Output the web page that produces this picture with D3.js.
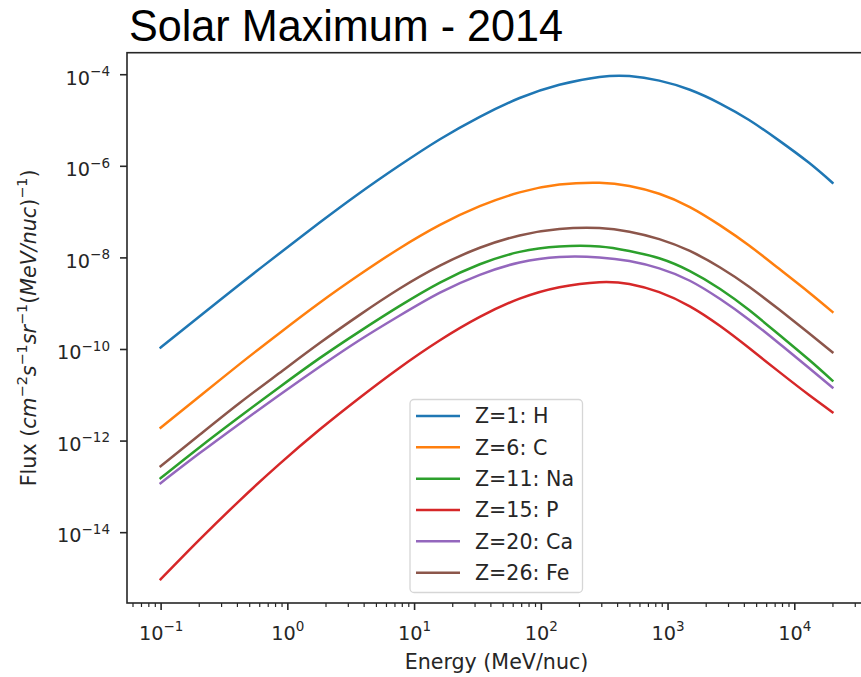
<!DOCTYPE html>
<html>
<head>
<meta charset="utf-8">
<script src="https://cdn.jsdelivr.net/npm/d3@7"></script>
<style>
  html, body { margin: 0; padding: 0; background: #fff; }
  svg { display: block; }
</style>
</head>
<body>
<svg id="chart" width="861" height="677"></svg>
<script>
// Kinetic energy grid (MeV/nuc) shared by every spectrum
const energies = [0.1, 0.2, 0.42, 0.86, 1.8, 3.7, 7.6, 16, 33, 68, 140, 290, 500, 860, 1500, 2600, 4400, 7600, 13000, 20000];

// Differential flux, cm^-2 s^-1 sr^-1 (MeV/nuc)^-1
const fluxH  = [1.072e-10, 5.012e-10, 2.570e-9, 1.202e-8, 5.754e-8, 2.512e-7, 1.000e-6, 3.802e-6, 1.175e-5, 3.020e-5, 5.888e-5, 8.710e-5, 9.120e-5, 7.244e-5, 4.571e-5, 2.291e-5, 1.000e-5, 3.548e-6, 1.175e-6, 4.266e-7];
const fluxC  = [1.905e-12, 8.913e-12, 4.677e-11, 2.188e-10, 1.023e-9, 4.169e-9, 1.549e-8, 5.129e-8, 1.318e-7, 2.630e-7, 3.890e-7, 4.266e-7, 3.631e-7, 2.455e-7, 1.259e-7, 5.012e-8, 1.820e-8, 5.623e-9, 1.738e-9, 6.457e-10];
const fluxNa = [1.514e-13, 6.918e-13, 3.311e-12, 1.445e-11, 6.310e-11, 2.399e-10, 8.511e-10, 2.818e-9, 7.079e-9, 1.318e-8, 1.738e-8, 1.738e-8, 1.380e-8, 9.550e-9, 5.012e-9, 2.042e-9, 7.079e-10, 2.042e-10, 5.888e-11, 2.042e-11];
const fluxP  = [9.333e-16, 6.607e-15, 4.898e-14, 3.020e-13, 1.738e-12, 8.511e-12, 3.802e-11, 1.549e-10, 5.012e-10, 1.259e-9, 2.239e-9, 2.884e-9, 2.630e-9, 1.738e-9, 8.511e-10, 3.162e-10, 1.047e-10, 3.162e-11, 1.000e-11, 4.169e-12];
const fluxCa = [1.175e-13, 5.129e-13, 2.344e-12, 9.772e-12, 4.074e-11, 1.549e-10, 5.248e-10, 1.698e-9, 4.169e-9, 7.762e-9, 1.023e-8, 1.000e-8, 8.318e-9, 5.754e-9, 3.090e-9, 1.230e-9, 4.365e-10, 1.318e-10, 3.890e-11, 1.445e-11];
const fluxFe = [2.754e-13, 1.288e-12, 6.607e-12, 2.951e-11, 1.349e-10, 5.495e-10, 2.042e-9, 6.607e-9, 1.622e-8, 3.020e-8, 4.169e-8, 4.365e-8, 3.631e-8, 2.512e-8, 1.380e-8, 6.026e-9, 2.291e-9, 7.244e-10, 2.239e-10, 8.511e-11];

const seriesLabels = ["Z=1: H", "Z=6: C", "Z=11: Na", "Z=15: P", "Z=20: Ca", "Z=26: Fe"];
const seriesFlux = [fluxH, fluxC, fluxNa, fluxP, fluxCa, fluxFe];
const seriesColors = ["#1f77b4", "#ff7f0e", "#2ca02c", "#d62728", "#9467bd", "#8c564b"];

const xTickExponents = [-1, 0, 1, 2, 3, 4];
const yTickExponents = [-14, -12, -10, -8, -6, -4];

const titleText = "Solar Maximum - 2014";
const xLabelText = "Energy (MeV/nuc)";

// ---- layout ----
const plot = { left: 127, right: 866, top: 52.7, bottom: 603 };
const tickFont = "DejaVu Sans, sans-serif";
const tickSize = 19.3;
const labelSize = 20.6;
const ink = "#262626";

const svg = d3.select("#chart");

const x = d3.scaleLog().domain([0.0543, 36800]).range([plot.left, plot.right]);
const y = d3.scaleLog().domain([2.84e-16, 2.95e-4]).range([plot.bottom, plot.top]);

// Write "10" with a raised exponent into a text node
function powerLabel(sel, exp) {
  sel.text(null);
  sel.append("tspan").text("10");
  sel.append("tspan").attr("dy", -8.4).attr("font-size", "0.7em")
    .text(exp < 0 ? "\u2212" + Math.abs(exp) : String(exp));
}

// ---- title ----
svg.append("text")
  .attr("x", 129).attr("y", 40.5)
  .attr("font-family", "'Liberation Sans', Arial, sans-serif")
  .attr("font-size", 44)
  .attr("fill", "#000")
  .attr("textLength", 434)
  .attr("lengthAdjust", "spacingAndGlyphs")
  .text(titleText);

// ---- spectra ----
svg.append("clipPath").attr("id", "plot-clip")
  .append("rect")
  .attr("x", plot.left).attr("y", plot.top)
  .attr("width", plot.right - plot.left).attr("height", plot.bottom - plot.top);

const line = d3.line()
  .x(d => x(d[0]))
  .y(d => y(d[1]))
  .curve(d3.curveNatural);

const linesG = svg.append("g").attr("clip-path", "url(#plot-clip)");
seriesFlux.forEach((flux, i) => {
  linesG.append("path")
    .datum(energies.map((e, j) => [e, flux[j]]))
    .attr("fill", "none")
    .attr("stroke", seriesColors[i])
    .attr("stroke-width", 2.5)
    .attr("stroke-linejoin", "round")
    .attr("stroke-linecap", "square")
    .attr("d", line);
});

// ---- x axis: minor ticks ----
const minorX = [];
for (let d = -2; d <= 4; d++) {
  for (let k = 2; k <= 9; k++) {
    const v = k * Math.pow(10, d);
    if (v >= x.domain()[0] && v <= x.domain()[1]) minorX.push(v);
  }
}
const xMinor = svg.append("g")
  .attr("transform", `translate(0,${plot.bottom})`)
  .call(d3.axisBottom(x).tickValues(minorX).tickSize(4).tickFormat(""));
xMinor.select(".domain").remove();
xMinor.selectAll(".tick line").attr("stroke", ink).attr("stroke-width", 1.2);

// ---- x axis: major ticks ----
const xMajor = svg.append("g")
  .attr("transform", `translate(0,${plot.bottom})`)
  .call(d3.axisBottom(x)
    .tickValues(xTickExponents.map(e => Math.pow(10, e)))
    .tickSize(7)
    .tickFormat(""));
xMajor.select(".domain").remove();
xMajor.selectAll(".tick line").attr("stroke", ink).attr("stroke-width", 1.6);
xMajor.selectAll(".tick text")
  .attr("y", 36.5).attr("dy", 0)
  .attr("font-family", tickFont).attr("font-size", tickSize)
  .attr("fill", ink)
  .each(function(d) { powerLabel(d3.select(this), Math.round(Math.log10(d))); });

// ---- y axis ----
const yAxis = svg.append("g")
  .attr("transform", `translate(${plot.left},0)`)
  .call(d3.axisLeft(y)
    .tickValues(yTickExponents.map(e => Math.pow(10, e)))
    .tickSize(7)
    .tickPadding(10)
    .tickFormat(""));
yAxis.select(".domain").remove();
yAxis.selectAll(".tick line").attr("stroke", ink).attr("stroke-width", 1.6);
yAxis.selectAll(".tick text")
  .attr("dy", 9.8)
  .attr("font-family", tickFont).attr("font-size", tickSize)
  .attr("fill", ink)
  .each(function(d) { powerLabel(d3.select(this), Math.round(Math.log10(d))); });

// ---- frame ----
svg.append("rect")
  .attr("x", plot.left).attr("y", plot.top)
  .attr("width", plot.right - plot.left).attr("height", plot.bottom - plot.top)
  .attr("fill", "none").attr("stroke", ink).attr("stroke-width", 1.6);

// ---- axis labels ----
svg.append("text")
  .attr("x", (plot.left + plot.right) / 2).attr("y", 669)
  .attr("text-anchor", "middle")
  .attr("font-family", tickFont).attr("font-size", labelSize)
  .attr("fill", ink)
  .text(xLabelText);

// y label mixes upright text, italic math symbols and exponents
const yLabelParts = [
  { t: "Flux (" },
  { t: "cm", it: true }, { t: "\u22122", sup: true },
  { t: "s", it: true }, { t: "\u22121", sup: true },
  { t: "sr", it: true }, { t: "\u22121", sup: true },
  { t: "(" }, { t: "MeV/nuc", it: true }, { t: ")" }, { t: "\u22121", sup: true },
  { t: ")" }
];
const yLabel = svg.append("text")
  .attr("transform", `translate(36,${(plot.top + plot.bottom) / 2}) rotate(-90)`)
  .attr("text-anchor", "middle")
  .attr("font-family", tickFont).attr("font-size", labelSize)
  .attr("fill", ink);
let raised = false;
yLabelParts.forEach(p => {
  const ts = yLabel.append("tspan").text(p.t);
  if (p.it) ts.attr("font-style", "italic");
  if (p.sup) {
    ts.attr("font-size", "0.7em");
    if (!raised) { ts.attr("dy", -9); raised = true; }
  } else if (raised) {
    ts.attr("dy", 9); raised = false;
  }
});

// ---- legend ----
const legend = svg.append("g");
legend.append("rect")
  .attr("x", 410).attr("y", 399.5)
  .attr("width", 172.5).attr("height", 193)
  .attr("rx", 4).attr("ry", 4)
  .attr("fill", "#fff").attr("fill-opacity", 0.8)
  .attr("stroke", "#d6d6d6").attr("stroke-width", 1.3);
const rowY = d3.scaleLinear().domain([0, 5]).range([416, 572.7]);
seriesLabels.forEach((name, i) => {
  const yy = rowY(i);
  legend.append("line")
    .attr("x1", 416).attr("x2", 460)
    .attr("y1", yy).attr("y2", yy)
    .attr("stroke", seriesColors[i]).attr("stroke-width", 2.5);
  legend.append("text")
    .attr("x", 475).attr("y", yy + 7.4)
    .attr("font-family", tickFont).attr("font-size", labelSize)
    .attr("fill", ink)
    .text(name);
});
</script>
</body>
</html>
